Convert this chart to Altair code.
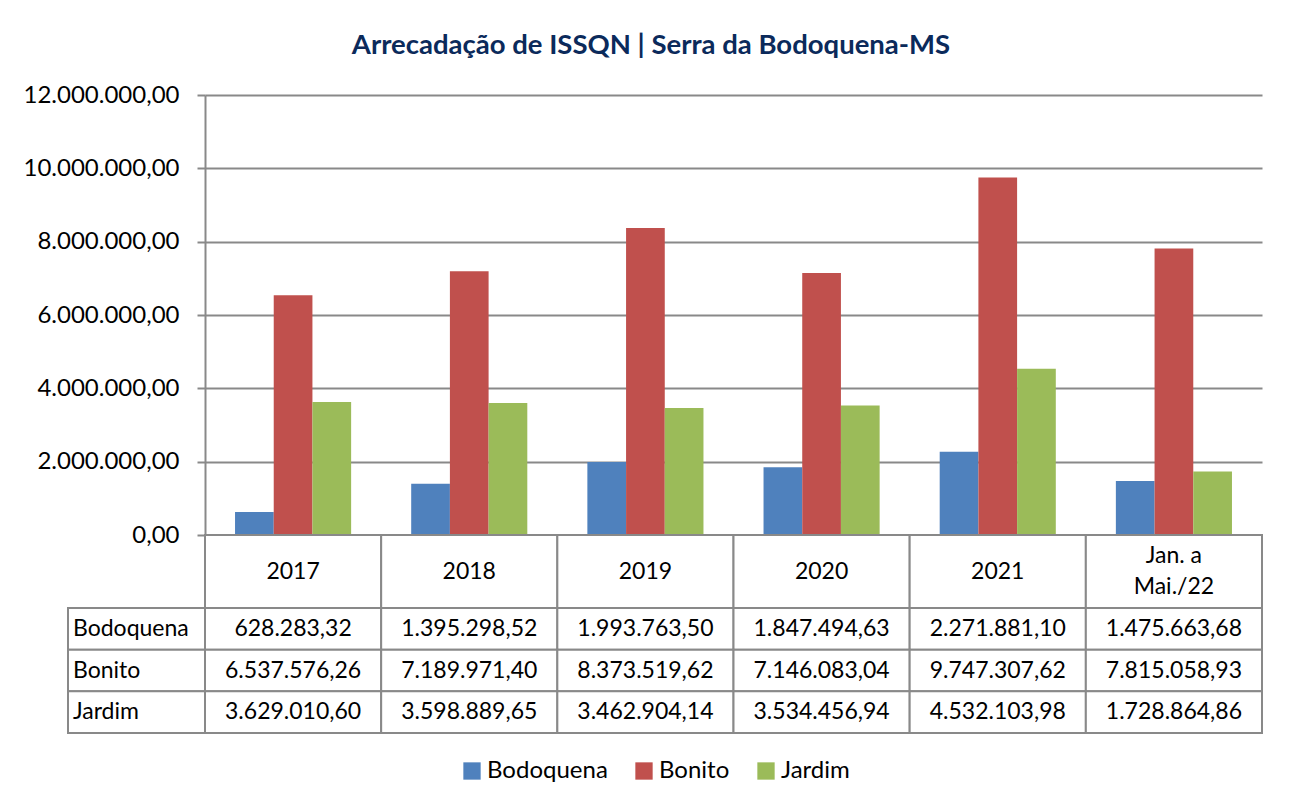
import altair as alt
import pandas as pd

categories = ["2017", "2018", "2019", "2020", "2021", "Jan. a Mai./22"]
header_labels = ["2017", "2018", "2019", "2020", "2021", "Jan. a\nMai./22"]
series = ["Bodoquena", "Bonito", "Jardim"]
bodoquena = [628283.32, 1395298.52, 1993763.50, 1847494.63, 2271881.10, 1475663.68]
bonito = [6537576.26, 7189971.40, 8373519.62, 7146083.04, 9747307.62, 7815058.93]
jardim = [3629010.60, 3598889.65, 3462904.14, 3534456.94, 4532103.98, 1728864.86]
colors = ["#4F81BD", "#C0504D", "#9BBB59"]
y_ticks = [0, 2000000, 4000000, 6000000, 8000000, 10000000, 12000000]
title_text = "Arrecadação de ISSQN | Serra da Bodoquena-MS"

rows = []
for s, vals in zip(series, [bodoquena, bonito, jardim]):
    for c, v in zip(categories, vals):
        rows.append({"category": c, "series": s, "value": v})
df = pd.DataFrame(rows)
hdr = pd.DataFrame({"category": categories, "label": header_labels})
lab = pd.DataFrame({"series": series})

FONT = "Lato"
GRID = "#898989"
FS = 23
W = 1057

xcat = alt.X("category:N", sort=categories,
             scale=alt.Scale(paddingInner=0, paddingOuter=0), axis=None)
ycat = alt.Y("series:N", sort=series,
             scale=alt.Scale(paddingInner=0, paddingOuter=0), axis=None)

bars = alt.Chart(df).mark_bar().encode(
    x=xcat,
    xOffset=alt.XOffset("series:N", sort=series,
                        scale=alt.Scale(paddingInner=0, paddingOuter=0.776)),
    y=alt.Y("value:Q", scale=alt.Scale(domain=[0, 12000000], nice=False),
            axis=alt.Axis(values=y_ticks, format=",.2f", title=None, grid=True,
                          gridColor=GRID, gridWidth=2, domainColor=GRID, domainWidth=2,
                          tickColor=GRID, tickWidth=2, tickSize=8,
                          labelFont=FONT, labelFontSize=24, labelColor="black",
                          labelPadding=18)),
    color=alt.Color("series:N", sort=series,
                    scale=alt.Scale(domain=series, range=colors),
                    legend=alt.Legend(title=None, orient="none", legendX=255, legendY=664,
                                      direction="horizontal", padding=0,
                                      symbolType="square", symbolSize=300,
                                      symbolStrokeWidth=0, labelFont=FONT,
                                      labelFontSize=24, labelColor="black",
                                      columnPadding=24, labelOffset=3)),
).properties(width=W, height=440)

header = alt.layer(
    alt.Chart(hdr).mark_rect(fill="white", stroke=GRID, strokeWidth=2).encode(x=xcat),
    alt.Chart(hdr).transform_filter("indexof(datum.label, '\\n') < 0").mark_text(
        font=FONT, fontSize=FS, color="black").encode(x=xcat, text="label:N"),
    alt.Chart(hdr).transform_filter("indexof(datum.label, '\\n') >= 0").mark_text(
        font=FONT, fontSize=FS, lineBreak="\n", lineHeight=31, dy=-16,
        color="black").encode(x=xcat, text="label:N"),
).properties(width=W, height=73)

lx = alt.XDatum(0, type="quantitative",
                scale=alt.Scale(domain=[0, 1], range=[-137, 0]), axis=None)
cells = alt.Chart(df).mark_rect(fill="white", stroke=GRID, strokeWidth=2).encode(x=xcat, y=ycat)
vals = alt.Chart(df).mark_text(font=FONT, fontSize=FS, color="black").encode(
    x=xcat, y=ycat, text=alt.Text("value:Q", format=",.2f"))
lcells = alt.Chart(lab).mark_rect(fill="white", stroke=GRID, strokeWidth=2).encode(
    x=lx, x2=alt.X2Datum(1), y=ycat)
ltext = alt.Chart(lab).mark_text(font=FONT, fontSize=FS, color="black", align="left", dx=5).encode(
    x=lx, y=ycat, text="series:N")
table = alt.layer(cells, vals, lcells, ltext).resolve_scale(x="independent").properties(
    width=W, height=125)

chart = alt.vconcat(bars, header, table, spacing=0, bounds="flush").properties(
    title=alt.TitleParams(title_text, font=FONT, fontSize=27.5, fontWeight="bold",
                          color="#0B2A5B", anchor="middle", frame="bounds", offset=24, dx=8),
    padding={"left": 15, "top": 23, "right": 20, "bottom": 15},
).configure(
    locale=alt.Locale(number=alt.NumberLocale(decimal=",", thousands=".", grouping=[3],
                                              currency=["R$", ""])),
    view=alt.ViewConfig(stroke=None),
)

chart.save("out.html", embed_options={"renderer": "svg", "actions": False})
